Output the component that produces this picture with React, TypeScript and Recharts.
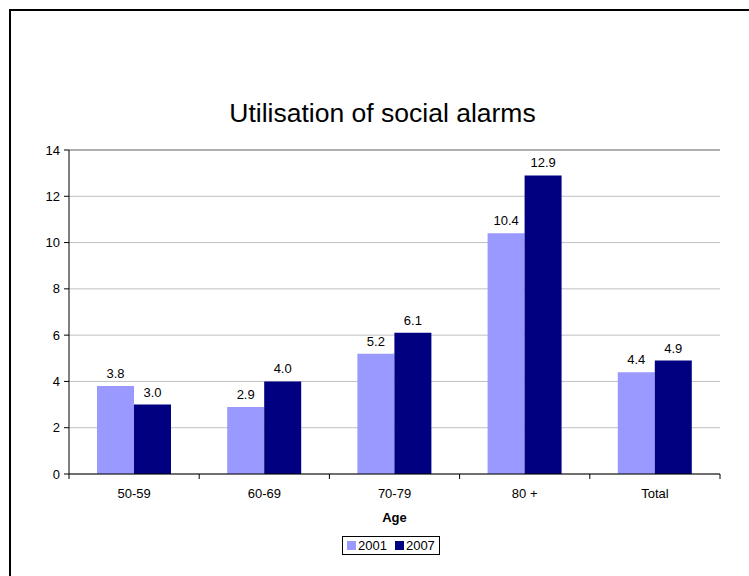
import React from 'react';
import {
  BarChart,
  Bar,
  XAxis,
  YAxis,
  CartesianGrid,
  LabelList,
  ReferenceLine,
} from 'recharts';

const categories = ['50-59', '60-69', '70-79', '80 +', 'Total'];
const values2001 = [3.8, 2.9, 5.2, 10.4, 4.4];
const values2007 = [3.0, 4.0, 6.1, 12.9, 4.9];
const yTicks = [0, 2, 4, 6, 8, 10, 12, 14];
const seriesNames = ['2001', '2007'];
const seriesColors = ['#9999FF', '#000080'];

const FONT = '"Liberation Sans", Arial, sans-serif';

const data = categories.map((age, i) => ({
  age,
  y2001: values2001[i],
  y2007: values2007[i],
}));

// category labels centred, tick marks on the band edges (Excel style)
function AgeTick(props: any) {
  const { x, y, payload, index } = props;
  const half = payload && payload.offset ? payload.offset : 0;
  return (
    <g>
      <line x1={x - half} x2={x - half} y1={y} y2={y + 5} stroke="#000" />
      {index === categories.length - 1 && (
        <line x1={x + half} x2={x + half} y1={y} y2={y + 5} stroke="#000" />
      )}
      <text x={x} y={y + 24} textAnchor="middle" fontSize={13} fontFamily={FONT} fill="#000">
        {payload.value}
      </text>
    </g>
  );
}

export default function App() {
  return (
    <div
      style={{
        position: 'absolute',
        left: 0,
        top: 0,
        width: 749,
        height: 576,
        overflow: 'hidden',
        background: '#fff',
        fontFamily: FONT,
      }}
    >
      <div
        style={{
          position: 'absolute',
          left: 9,
          top: 9,
          width: 800,
          height: 700,
          border: '2px solid #000',
        }}
      />
      <div
        style={{
          position: 'absolute',
          left: 0,
          top: 100,
          width: 765,
          textAlign: 'center',
          fontSize: 26.5,
          lineHeight: '26px',
          color: '#000',
        }}
      >
        Utilisation of social alarms
      </div>
      <div style={{ position: 'absolute', left: 0, top: 0 }}>
        <BarChart
          width={749}
          height={576}
          data={data}
          margin={{ top: 150, right: 29, left: 29, bottom: 52 }}
          barCategoryGap="21.5%"
          barGap={0}
        >
          <CartesianGrid vertical={false} stroke="#C0C0C0" />
          <ReferenceLine y={14} stroke="#808080" />
          <XAxis
            dataKey="age"
            height={50}
            tickLine={false}
            tickSize={0}
            tickMargin={0}
            axisLine={{ stroke: '#000' }}
            tick={<AgeTick />}
            interval={0}
            label={{
              value: 'Age',
              position: 'insideBottom',
              offset: 2,
              fontSize: 13,
              fontWeight: 'bold',
              fontFamily: FONT,
              fill: '#000',
            }}
          />
          <YAxis
            width={40}
            domain={[0, 14]}
            ticks={yTicks}
            interval={0}
            tickSize={5}
            tickMargin={4}
            axisLine={{ stroke: '#000' }}
            tickLine={{ stroke: '#000' }}
            tick={{ fontSize: 13, fill: '#000', fontFamily: FONT }}
          />
          <YAxis
            yAxisId="frame"
            orientation="right"
            width={0}
            tick={false}
            tickLine={false}
            axisLine={{ stroke: '#808080' }}
          />
          <Bar dataKey="y2001" name={seriesNames[0]} fill={seriesColors[0]} isAnimationActive={false}>
            <LabelList
              dataKey="y2001"
              position="top"
              offset={8}
              formatter={(v: any) => Number(v).toFixed(1)}
              style={{ fontSize: 13, fill: '#000', fontFamily: FONT }}
            />
          </Bar>
          <Bar dataKey="y2007" name={seriesNames[1]} fill={seriesColors[1]} isAnimationActive={false}>
            <LabelList
              dataKey="y2007"
              position="top"
              offset={8}
              formatter={(v: any) => Number(v).toFixed(1)}
              style={{ fontSize: 13, fill: '#000', fontFamily: FONT }}
            />
          </Bar>
        </BarChart>
      </div>
      <div
        style={{
          position: 'absolute',
          left: 342,
          top: 536,
          height: 17,
          border: '1px solid #000',
          display: 'flex',
          alignItems: 'center',
          padding: '0 4px',
          fontSize: 13,
          lineHeight: '17px',
          color: '#000',
        }}
      >
        {seriesNames.map((name, i) => (
          <div
            key={name}
            style={{ display: 'flex', alignItems: 'center', marginLeft: i === 0 ? 0 : 8 }}
          >
            <span
              style={{
                display: 'inline-block',
                width: 9,
                height: 9,
                background: seriesColors[i],
                marginRight: 2,
              }}
            />
            <span>{name}</span>
          </div>
        ))}
      </div>
    </div>
  );
}
